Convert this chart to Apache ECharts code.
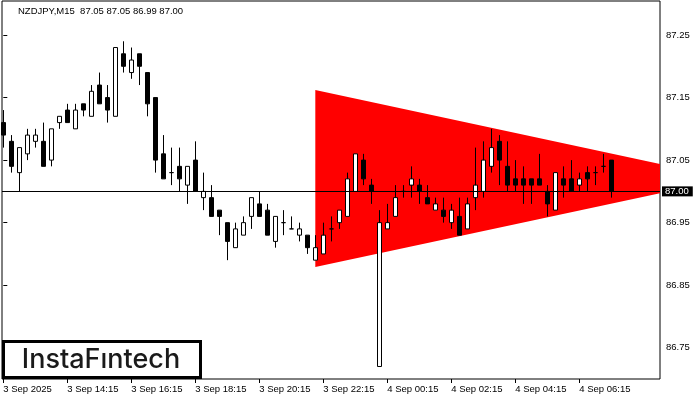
<!DOCTYPE html>
<html>
<head>
<meta charset="utf-8">
<script src="https://cdn.jsdelivr.net/npm/echarts@6/dist/echarts.min.js"></script>
<style>html,body{margin:0;padding:0;background:#fff}#c{width:700px;height:400px}</style>
</head>
<body>
<div id="c"></div>
<script>
const symbol = 'NZDJPY';
const timeframe = 'M15';
const tickBars = [0, 8, 16, 24, 32, 40, 48, 56, 64, 72];
const tickLabels = ['3 Sep 2025', '3 Sep 14:15', '3 Sep 16:15', '3 Sep 18:15', '3 Sep 20:15',
  '3 Sep 22:15', '4 Sep 00:15', '4 Sep 02:15', '4 Sep 04:15', '4 Sep 06:15'];
const priceTicks = [86.75, 86.85, 86.95, 87.05, 87.15, 87.25];

const opens = [87.11,87.08,87.03,87.06,87.08,87.08,87.05,87.11,87.13,87.10,
  87.14,87.12,87.17,87.15,87.12,87.22,87.19,87.22,87.19,87.15,
  87.06,87.03,87.04,87.01,87.05,86.99,86.99,86.97,86.95,86.91,
  86.93,86.96,86.98,86.97,86.92,86.95,86.94,86.93,86.93,86.89,
  86.90,86.94,86.95,86.96,87.00,87.05,87.01,86.72,86.94,86.96,
  87.00,87.01,87.01,86.99,86.97,86.97,86.95,86.96,86.94,86.99,
  87.00,87.04,87.08,87.04,87.02,87.02,87.02,87.02,87.00,86.97,
  87.02,87.02,87.01,87.03,87.03,87.04,87.05];
const highs = [87.13,87.09,87.07,87.10,87.10,87.11,87.10,87.12,87.14,87.14,
  87.14,87.17,87.19,87.17,87.23,87.24,87.23,87.22,87.19,87.15,
  87.09,87.07,87.07,87.04,87.08,87.03,87.01,86.97,86.95,86.95,
  86.96,86.99,87.00,86.98,86.96,86.97,86.96,86.95,86.93,86.93,
  86.95,86.96,86.97,87.03,87.06,87.06,87.02,86.97,86.98,87.01,
  87.01,87.04,87.02,87.01,86.99,86.99,86.98,86.99,86.99,87.07,
  87.08,87.10,87.09,87.08,87.05,87.04,87.02,87.06,87.01,87.03,
  87.04,87.05,87.03,87.04,87.04,87.06,87.05];
const lows = [87.07,87.03,87.00,87.05,87.07,87.04,87.04,87.10,87.11,87.10,
  87.12,87.12,87.14,87.11,87.12,87.19,87.18,87.17,87.12,87.03,
  87.02,87.01,87.00,86.98,87.00,86.97,86.96,86.93,86.89,86.91,
  86.93,86.94,86.96,86.93,86.91,86.93,86.94,86.92,86.90,86.89,
  86.90,86.92,86.94,86.96,87.00,87.01,86.98,86.72,86.94,86.96,
  86.99,86.99,86.98,86.98,86.97,86.95,86.94,86.93,86.94,86.97,
  86.99,87.03,87.01,87.00,87.00,86.98,86.98,87.01,86.96,86.97,
  86.99,87.00,87.00,87.00,87.01,87.03,86.99];
const closes = [87.09,87.04,87.07,87.09,87.09,87.04,87.10,87.12,87.11,87.13,
  87.13,87.16,87.14,87.13,87.23,87.20,87.21,87.20,87.14,87.05,
  87.02,87.03,87.02,87.04,87.00,87.00,86.96,86.96,86.92,86.94,
  86.95,86.99,86.96,86.93,86.96,86.95,86.94,86.94,86.91,86.91,
  86.93,86.94,86.97,87.02,87.06,87.02,87.00,86.95,86.95,86.99,
  87.00,87.02,87.00,86.98,86.98,86.96,86.97,86.93,86.98,87.01,
  87.05,87.07,87.05,87.01,87.01,87.01,87.01,87.01,86.98,87.03,
  87.01,87.00,87.02,87.02,87.03,87.04,87.00];

// symmetrical triangle pattern vertices (bar index, price)
const triangleBars = [39, 90.6, 39];
const trianglePrices = [87.162, 87.0205, 86.879];

const last = opens.length - 1;
const currentPrice = closes[last];
const header = symbol + ',' + timeframe + '  ' +
  [opens[last], highs[last], lows[last], closes[last]].map(v => v.toFixed(2)).join(' ');

const candleData = opens.map((o, i) => [i, o, closes[i], lows[i], highs[i]]);

const FONT = 'Liberation Sans';

function clipPoly(pts, r) {
  const edges = [
    [p => p[0] >= r.x, (a, b) => { const t = (r.x - a[0]) / (b[0] - a[0]); return [r.x, a[1] + t * (b[1] - a[1])]; }],
    [p => p[0] <= r.x + r.width, (a, b) => { const X = r.x + r.width; const t = (X - a[0]) / (b[0] - a[0]); return [X, a[1] + t * (b[1] - a[1])]; }],
    [p => p[1] >= r.y, (a, b) => { const t = (r.y - a[1]) / (b[1] - a[1]); return [a[0] + t * (b[0] - a[0]), r.y]; }],
    [p => p[1] <= r.y + r.height, (a, b) => { const Y = r.y + r.height; const t = (Y - a[1]) / (b[1] - a[1]); return [a[0] + t * (b[0] - a[0]), Y]; }]
  ];
  let out = pts;
  for (const [inside, inter] of edges) {
    const inp = out; out = [];
    for (let i = 0; i < inp.length; i++) {
      const cur = inp[i], prev = inp[(i + inp.length - 1) % inp.length];
      if (inside(cur)) {
        if (!inside(prev)) out.push(inter(prev, cur));
        out.push(cur);
      } else if (inside(prev)) {
        out.push(inter(prev, cur));
      }
    }
  }
  return out;
}

const chart = echarts.init(document.getElementById('c'), null, {renderer: 'canvas'});
chart.setOption({
  animation: false,
  backgroundColor: '#fff',
  grid: {left: 2, top: 1, width: 658, height: 378, show: true, borderColor: '#000', borderWidth: 1,
    backgroundColor: '#fff', containLabel: false, outerBoundsMode: 'none'},
  xAxis: {
    type: 'value', min: -0.1625, max: 82.0875,
    splitLine: {show: false}, axisLine: {show: false},
    axisTick: {show: true, customValues: tickBars, length: 4, lineStyle: {color: '#000', width: 1}},
    axisLabel: {customValues: tickBars, formatter: v => tickLabels[tickBars.indexOf(Math.round(v))] || '',
      align: 'left', margin: 5, color: '#000', fontSize: 9.5, fontFamily: FONT}
  },
  yAxis: {
    type: 'value', position: 'right', min: 86.70, max: 87.3044,
    splitLine: {show: false}, axisLine: {show: false},
    axisTick: {show: true, customValues: priceTicks, length: 4, lineStyle: {color: '#000', width: 1}},
    axisLabel: {customValues: priceTicks, formatter: v => v.toFixed(2), margin: 6,
      color: '#000', fontSize: 9.5, fontFamily: FONT}
  },
  series: [
    {
      type: 'custom', z: 1, silent: true,
      data: [[0]],
      renderItem: function (params, api) {
        const pts = triangleBars.map((b, k) => api.coord([b, trianglePrices[k]]));
        const cs = params.coordSys;
        const clipped = clipPoly(pts, {x: cs.x, y: cs.y, width: cs.width, height: cs.height});
        return {type: 'polygon', shape: {points: clipped}, style: {fill: '#ff0000', stroke: null}};
      }
    },
    {
      type: 'candlestick', z: 3,
      data: candleData,
      encode: {x: 0, y: [1, 2, 3, 4]},
      barWidth: 4,
      itemStyle: {color: '#ffffff', color0: '#000000', borderColor: '#000000', borderColor0: '#000000', borderWidth: 1},
      markLine: {
        silent: true, symbol: ['none', 'none'], animation: false,
        lineStyle: {color: '#000', width: 1, type: 'solid'},
        label: {show: true, position: 'end', distance: 2, formatter: p => p.value.toFixed(2),
          backgroundColor: '#000', color: '#fff', fontSize: 9.5, fontFamily: FONT,
          lineHeight: 10, padding: [0, 4, 0, 3]},
        emphasis: {disabled: true},
        data: [{yAxis: currentPrice}]
      }
    }
  ],
  graphic: [
    {type: 'text', x: 18, y: 11.5, z: 50,
      style: {text: header, fontSize: 9.5, fontFamily: FONT, fill: '#000', textVerticalAlign: 'middle'}},
    {type: 'rect', z: 100, shape: {x: 3.5, y: 341.5, width: 197, height: 36},
      style: {fill: '#fff', stroke: '#000', lineWidth: 3}},
    {type: 'text', z: 101, x: 101, y: 359.5,
      style: {text: 'InstaFıntech', fontSize: 27, fontWeight: 500, fontFamily: 'Inter', fill: '#1a1a1a',
        textAlign: 'center', textVerticalAlign: 'middle'}}
  ]
});
</script>
</body>
</html>
